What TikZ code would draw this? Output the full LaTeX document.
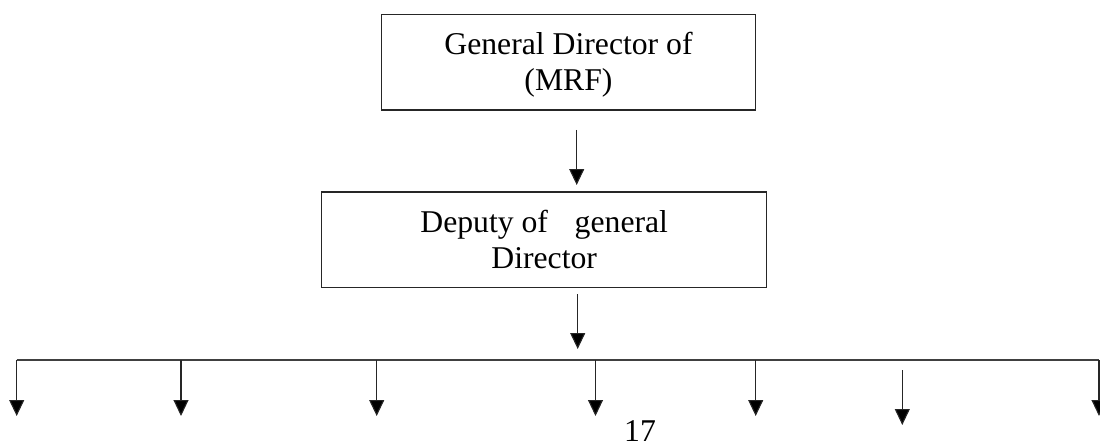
\documentclass[tikz,border=0pt]{standalone}
\usepackage{fontspec}
\setmainfont{Liberation Serif}
\usetikzlibrary{arrows.meta}
\begin{document}
\begin{tikzpicture}[x=1pt,y=-1pt,
  box/.style={draw=black!85,line width=1.2pt,rectangle,inner sep=0pt},
  lbl/.style={inner sep=0pt,font=\fontsize{31.7}{36}\selectfont},
  arr/.style={draw=black!85,line width=1.1pt,-{Triangle[width=15pt,length=16pt,fill=black]}},
  bar/.style={draw=black!75,line width=1.2pt}]
\useasboundingbox (0,0) rectangle (1100,441);
% boxes
\node[box,minimum width=373.6pt,minimum height=95.7pt] (gd) at (568.5,62.2) {};
\node[lbl,anchor=base] (gdt1) at (568.5,55) {General Director of};
\node[lbl,anchor=base] (gdt2) at (568.5,91) {(MRF)};
\node[box,minimum width=445pt,minimum height=95.3pt] (dg) at (544.2,239.6) {};
\node[lbl,anchor=base] (dgt1) at (544.2,232.3) {Deputy of\hspace{26.7pt}general};
\node[lbl,anchor=base] (dgt2) at (544.2,268.3) {Director};
% arrows between boxes
\coordinate (a1s) at (576.7,130);
\coordinate (a1e) at (576.7,185);
\draw[arr] (a1s) -- (a1e);
\coordinate (a2s) at (577.7,294);
\coordinate (a2e) at (577.7,349);
\draw[arr] (a2s) -- (a2e);
% horizontal bar
\coordinate (hl) at (16.7,360);
\coordinate (hr) at (1099,360);
\draw[bar] (hl) -- (hr);
% drops
\foreach \i/\x in {1/16.7,2/181,3/376.7,4/595.5,5/755.7,7/1099}{
  \coordinate (d\i s) at (\x,360);
  \coordinate (d\i e) at (\x,416);
  \draw[arr] (d\i s) -- (d\i e);
}
\coordinate (d6s) at (902.3,370);
\coordinate (d6e) at (902.3,425);
\draw[arr] (d6s) -- (d6e);
% page number
\node[lbl,anchor=base] (pg) at (640,441) {17};
\end{tikzpicture}
\end{document}
